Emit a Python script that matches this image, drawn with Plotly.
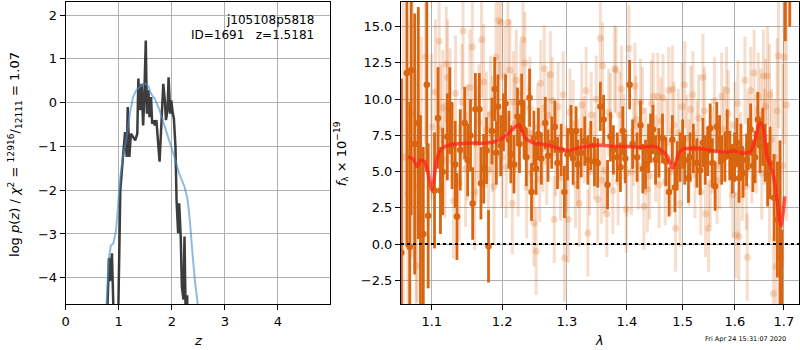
import plotly.graph_objects as go
import math

# ---------------- left panel: log p(z) ----------------
chi_z = [0.77, 0.79, 0.816, 0.835, 0.872, 0.91, 0.95, 0.975, 1.00, 1.03, 1.08, 1.12, 1.15, 1.17, 1.20,
         1.23, 1.27, 1.31, 1.35, 1.37, 1.40, 1.43, 1.46, 1.48, 1.51, 1.53, 1.56, 1.58, 1.61, 1.63,
         1.66, 1.68, 1.71, 1.74, 1.77, 1.79, 1.82, 1.84, 1.87, 1.89, 1.92, 1.94, 1.97, 1.99, 2.02,
         2.04, 2.07, 2.09, 2.12, 2.14, 2.17, 2.19, 2.22, 2.24, 2.27, 2.29, 2.32]
chi_logp = [-7.0, -4.6, -3.55, -4.08, -3.44, -6.5, -7.0, -6.0, -3.59, -2.0, -1.24, -0.67, -1.24, -0.10, -1.24,
            -0.71, -0.78, -0.86, -0.71, 0.55, -0.17, 0.43, -0.52, 0.05, 1.42, -0.25, 0.28, -0.33, 0.13, -0.48,
            -0.40, -0.52, -0.40, -0.93, -1.35, -0.86, 0.05, 0.43, 0.05, -0.40, -0.17, 0.58, -0.25, 0.05, -0.25,
            -0.36, -1.01, -2.22, -2.98, -2.30, -3.10, -4.20, -4.50, -3.06, -5.5, -4.4, -7.0]

pdf_z = [0.77, 0.81, 0.85, 0.90, 0.95, 0.99, 1.03, 1.08, 1.15, 1.21, 1.27, 1.33, 1.40, 1.46, 1.51,
         1.56, 1.61, 1.68, 1.77, 1.86, 1.96, 2.05, 2.14, 2.24, 2.30, 2.34, 2.39, 2.44, 2.49, 2.53]
pdf_logp = [-4.6, -3.59, -3.27, -3.21, -2.91, -2.38, -1.69, -1.24, -0.78, -0.25, 0.13, 0.28, 0.37, 0.43, 0.43,
            0.37, 0.20, 0.09, -0.17, -0.52, -0.86, -1.24, -1.62, -1.92, -2.22, -2.68, -3.44, -4.12, -4.6, -5.2]

left_xticks = [0, 1, 2, 3, 4]
left_yticks = [-4, -3, -2, -1, 0, 1, 2]

# ---------------- right panel: spectrum ----------------
dark_wave = [1.0595, 1.0667, 1.0705, 1.0724, 1.0771, 1.0819, 1.0848, 1.0886, 1.0933, 1.0952,
             1.1038, 1.1086, 1.1119, 1.1150, 1.1214, 1.1248, 1.1280, 1.1324, 1.1348, 1.1395,
             1.1457, 1.1500, 1.1540, 1.1571, 1.1610, 1.1667, 1.1690, 1.1730, 1.1771, 1.1800,
             1.1850, 1.1890, 1.1914, 1.1938, 1.1980, 1.2020, 1.2051, 1.2101, 1.2130, 1.2177,
             1.2230, 1.2260, 1.2293, 1.2330, 1.2364, 1.2414, 1.2444, 1.2480, 1.2515, 1.2550,
             1.2596, 1.2657, 1.2700, 1.2758, 1.2808, 1.2850, 1.2909, 1.2960, 1.3010, 1.3066,
             1.3100, 1.3148, 1.3176, 1.3231, 1.3290, 1.3341, 1.3390, 1.3451, 1.3505, 1.3549,
             1.3604, 1.3670, 1.3720, 1.3769, 1.3835, 1.3890, 1.3930, 1.3973, 1.4048, 1.4100,
             1.4179, 1.4238, 1.4280, 1.4327, 1.4380, 1.4417, 1.4460, 1.4506, 1.4565, 1.4631,
             1.4690, 1.4750, 1.4810, 1.4857, 1.4900, 1.4952, 1.5000, 1.5038, 1.5108, 1.5139,
             1.5200, 1.5266, 1.5329, 1.5380, 1.5424, 1.5470, 1.5519, 1.5560, 1.5614, 1.5646,
             1.5700, 1.5741, 1.5804, 1.5850, 1.5899, 1.5950, 1.5994, 1.6040, 1.6082, 1.6120,
             1.6164, 1.6233, 1.6270, 1.6315, 1.6360, 1.6404, 1.6460, 1.6507, 1.6560, 1.6610,
             1.6660, 1.6712, 1.6795, 1.6863, 1.6918, 1.6955, 1.7030, 1.7123]
dark_flux = [-0.6, 11.8, -0.2, 12.0, 6.9, 8.35, 1.9, 0.7, 11.0, 1.95,
             3.7, 8.7, 3.7, 5.0, 7.4, 9.2, 6.8, 5.5, 1.9, 6.5,
             8.35, 5.8, 7.5, 2.8, 9.3, 9.3, 4.2, 5.2, 6.45, -0.15,
             7.8, 10.7, 6.3, 9.5, 6.8, 8.4, 9.7, 7.2, 6.2, 5.5,
             8.8, 6.9, 9.75, 7.9, 6.0, 10.1, 3.6, 7.3, 5.2, 7.6,
             5.9, 8.35, 6.1, 7.0, 8.1, 5.6, 6.5, 3.6, 6.2, 7.8,
             5.9, 7.8, 5.5, 6.3, 7.1, 5.8, 6.8, 5.7, 5.6, 9.5,
             8.6, 4.1, 7.4, 6.5, 6.0, 5.3, 7.8, 5.9, 11.0, 6.9,
             6.0, 8.2, 5.2, 5.5, 6.6, 7.3, 7.9, 5.8, 6.3, 7.3,
             5.7, 3.6, 7.2, 3.9, 5.4, 6.0, 6.9, 5.8, 4.55, 6.0,
             6.6, 5.6, 5.1, 7.0, 5.8, 6.4, 8.0, 5.6, 4.0, 8.1,
             7.2, 5.8, 6.0, 7.6, 6.1, 5.2, 6.0, 7.0, 4.55, 6.6,
             4.9, 5.8, 6.9, 7.9, 5.4, 6.0, 8.6, 6.8, 7.4, 6.3,
             4.8, 5.6, 3.2, 1.7, -0.85, -5.0, 17.0, 18.0]
dark_err = [12, 12, 10, 10, 9, 8, 7, 6, 6, 5,
            4, 3.5, 3, 3, 3, 3, 3, 3, 3, 2.8,
            2.5, 2.5, 2.5, 2.5, 2.5, 2.5, 2.5, 2.4, 2.3, 2.5,
            2.3, 2.2, 2.2, 2.2, 2.1, 2.0, 2.0, 2.0, 2.0, 2.0,
            2.0, 2.0, 2.0, 2.0, 2.0, 2.0, 2.0, 1.9, 1.8, 1.8,
            1.8, 1.8, 1.8, 1.8, 1.8, 1.8, 1.8, 1.8, 1.8, 1.8,
            1.8, 1.7, 1.7, 1.7, 1.7, 1.7, 1.7, 1.7, 1.7, 1.7,
            1.7, 1.7, 1.7, 1.7, 1.7, 1.7, 1.7, 1.7, 1.7, 1.7,
            1.7, 1.7, 1.7, 1.7, 1.7, 1.7, 1.7, 1.7, 1.7, 1.7,
            1.7, 1.7, 1.7, 1.7, 1.7, 1.7, 1.7, 1.7, 1.7, 1.7,
            1.7, 1.7, 1.7, 1.7, 1.7, 1.7, 1.7, 1.7, 1.7, 1.7,
            1.7, 1.7, 1.7, 1.7, 1.7, 1.7, 1.7, 1.7, 1.7, 1.7,
            1.7, 1.8, 1.8, 1.8, 1.8, 1.8, 1.9, 1.9, 2.0, 2.0,
            2.2, 2.5, 3.0, 4.0, 8.0, 6.0, 3.0, 3.0]

light_wave = [1.0620, 1.0680, 1.0740, 1.0790, 1.0800, 1.0857, 1.0914, 1.1000, 1.1101, 1.1152,
              1.1180, 1.1217, 1.1253, 1.1328, 1.1380, 1.1434, 1.1495, 1.1566, 1.1620, 1.1697,
              1.1768, 1.1800, 1.1859, 1.1909, 1.1949, 1.1985, 1.2000, 1.2086, 1.2116, 1.2152,
              1.2190, 1.2212, 1.2313, 1.2343, 1.2400, 1.2450, 1.2480, 1.2515, 1.2586, 1.2620,
              1.2641, 1.2700, 1.2737, 1.2798, 1.2859, 1.2900, 1.2960, 1.3022, 1.3100, 1.3180,
              1.3203, 1.3280, 1.3313, 1.3341, 1.3396, 1.3450, 1.3505, 1.3549, 1.3588, 1.3620,
              1.3659, 1.3720, 1.3791, 1.3813, 1.3850, 1.3879, 1.3950, 1.3989, 1.4036, 1.4080,
              1.4119, 1.4160, 1.4238, 1.4298, 1.4330, 1.4400, 1.4464, 1.4548, 1.4600, 1.4680,
              1.4744, 1.4810, 1.4869, 1.4920, 1.4952, 1.5038, 1.5080, 1.5152, 1.5230, 1.5300,
              1.5380, 1.5430, 1.5487, 1.5560, 1.5650, 1.5741, 1.5780, 1.5835, 1.5920, 1.6000,
              1.6027, 1.6082, 1.6150, 1.6199, 1.6247, 1.6260, 1.6315, 1.6384, 1.6430, 1.6521,
              1.6575, 1.6620, 1.6658, 1.6699, 1.6740, 1.6781, 1.6836, 1.6884, 1.6918, 1.6973,
              1.7055,
              1.1050, 1.1120, 1.1200, 1.1300, 1.1420, 1.1470, 1.1530, 1.1600, 1.1660, 1.1730,
              1.1830, 1.1880, 1.1960, 1.2040, 1.2060, 1.2170, 1.2240, 1.2280, 1.2370, 1.2420,
              1.2540, 1.2570, 1.2680, 1.2770, 1.2820, 1.2940, 1.2990, 1.3050, 1.3140, 1.3240,
              1.3370, 1.3480, 1.3570, 1.3690, 1.3760, 1.3910, 1.4000, 1.4140, 1.4200, 1.4270,
              1.4360, 1.4430, 1.4510, 1.4570, 1.4640, 1.4710, 1.4780, 1.4840, 1.4990, 1.5120,
              1.5190, 1.5270, 1.5340, 1.5410, 1.5520, 1.5600, 1.5700, 1.5870, 1.5960, 1.6060,
              1.6110, 1.6230, 1.6340, 1.6470, 1.6540, 1.6600, 1.6700, 1.6800, 1.6860, 1.7000]
light_flux = [6.0, 3.5, 9.0, -1.5, 4.0, 6.3, 12.9, 8.1, 14.0, 9.4,
              5.8, 11.5, 9.5, 10.4, 4.2, 14.7, 7.0, 13.6, 6.9, 14.1,
              7.9, 5.1, 7.6, 12.9, 15.4, 15.3, 6.0, 15.3, 12.0, 2.8,
              8.3, 11.3, 14.1, 12.5, 7.6, 4.9, 1.45, -0.5, 11.1, 6.6,
              12.1, 8.9, 11.7, 1.7, 9.5, 4.6, -0.97, 1.7, 8.3, 5.6,
              2.8, 7.2, 10.6, 0.76, 8.9, 6.1, 3.1, 14.2, 12.3, 5.1,
              2.1, 8.8, 12.1, 12.0, 4.3, 8.9, 7.4, 2.4, 13.5, 5.0,
              7.0, 8.6, 9.8, 2.6, 6.4, 4.7, 10.2, 10.2, 8.5, 4.3,
              10.6, 10.7, 1.1, 7.7, 2.8, 11.0, 7.3, 9.3, 4.8, 8.7,
              11.5, 2.1, 1.1, 6.5, 4.4, 10.2, 7.9, 10.6, 5.5, 8.2,
              0.64, 0.53, 4.6, 11.3, -0.9, 7.5, 10.6, 11.8, 6.5, 8.9,
              11.6, 9.5, 11.6, 3.6, 7.2, -3.4, -1.54, 13.0, -0.3, 5.4,
              9.6,
              10.5, 7.9, 12.4, 3.0, 9.8, 5.2, 10.8, 3.6, 8.4, 11.2,
              9.0, 4.0, 8.6, 11.6, 5.3, 9.8, 5.4, 10.4, 3.9, 9.4,
              8.1, 4.5, 5.7, 9.9, 6.3, 10.3, 5.2, 9.1, 4.1, 9.6,
              5.0, 10.0, 4.4, 9.1, 3.7, 10.7, 4.9, 10.9, 5.4, 9.2,
              3.8, 9.7, 5.9, 4.1, 10.1, 7.0, 5.0, 8.2, 9.5, 5.6,
              10.3, 6.9, 3.6, 9.2, 4.2, 9.9, 5.4, 9.0, 3.4, 9.7,
              6.1, 4.0, 5.8, 10.2, 4.9, 7.4, 10.3, 6.0, 9.2, 12.9]
light_err = [12, 12, 10, 9, 8, 8, 6, 5, 5, 4,
             4, 4, 4, 4, 4, 4, 4, 4, 4, 4,
             4, 4, 4, 4, 4, 4, 3.5, 3.5, 3.5, 3.5,
             3.5, 3.5, 3.5, 3.5, 3.5, 3, 3, 3, 3, 3,
             3, 3, 3, 3, 3, 3, 3, 3, 3, 3,
             3, 3, 3, 3, 3, 3, 3, 3, 3, 3,
             3, 3, 3, 3, 3, 3, 3, 3, 3, 3,
             3, 3, 3, 3, 3, 3, 3, 3, 3, 3,
             3, 3, 3, 3, 3, 3, 3, 3, 3, 3,
             3, 3, 3, 3, 3, 3, 3, 3, 3, 3,
             3, 3, 3, 3, 3, 3, 3, 3, 3, 3.2,
             3.2, 3.3, 3.4, 3.5, 3.5, 4, 4.5, 5, 6, 7,
             8,
             5, 4.5, 4, 4, 4, 4, 4, 4, 4, 4,
             4, 4, 4, 3.5, 3.5, 3.5, 3.5, 3.5, 3.5, 3.5,
             3, 3, 3, 3, 3, 3, 3, 3, 3, 3,
             3, 3, 3, 3, 3, 3, 3, 3, 3, 3,
             3, 3, 3, 3, 3, 3, 3, 3, 3, 3,
             3, 3, 3, 3, 3, 3, 3, 3, 3, 3,
             3, 3, 3, 3, 3.2, 3.3, 3.5, 4, 5, 6]

model_wave = [1.068, 1.075, 1.080, 1.085, 1.090, 1.095, 1.100, 1.103, 1.106, 1.110,
              1.117, 1.126, 1.138, 1.157, 1.176, 1.190, 1.200, 1.210, 1.219, 1.225,
              1.229, 1.235, 1.246, 1.266, 1.286, 1.301, 1.318, 1.340, 1.351, 1.378,
              1.400, 1.424, 1.448, 1.460, 1.472, 1.481, 1.487, 1.493, 1.501, 1.520,
              1.539, 1.565, 1.585, 1.596, 1.615, 1.631, 1.641, 1.648, 1.653, 1.659,
              1.665, 1.675, 1.682, 1.689, 1.694, 1.699, 1.702]
model_flux = [6.0, 5.86, 5.36, 5.8, 5.7, 4.9, 3.75, 4.44, 5.6, 6.3,
              6.7, 6.85, 6.92, 6.97, 6.97, 7.08, 7.31, 7.66, 8.07, 8.23,
              7.89, 7.31, 7.01, 6.85, 6.62, 6.44, 6.62, 6.78, 6.83, 6.74,
              6.74, 6.69, 6.74, 6.51, 6.05, 5.24, 5.59, 6.28, 6.55, 6.62,
              6.57, 6.39, 6.34, 6.44, 6.28, 6.39, 7.2, 8.23, 8.34, 7.66,
              6.05, 5.13, 3.98, 2.14, 1.22, 2.37, 3.29]

right_xticks = [1.1, 1.2, 1.3, 1.4, 1.5, 1.6, 1.7]
right_yticks = [-2.5, 0.0, 2.5, 5.0, 7.5, 10.0, 12.5, 15.0]

ORANGE = "#d96510"
FONT = "DejaVu Sans"

fig = go.Figure()

fig.add_trace(go.Scatter(x=chi_z, y=chi_logp, mode="lines",
                         line=dict(color="rgba(40,40,40,0.9)", width=2.5),
                         xaxis="x", yaxis="y", showlegend=False))
fig.add_trace(go.Scatter(x=pdf_z, y=pdf_logp, mode="lines",
                         line=dict(color="rgba(70,140,200,0.6)", width=2),
                         xaxis="x", yaxis="y", showlegend=False))

fig.add_trace(go.Scatter(x=light_wave, y=light_flux, mode="markers",
                         marker=dict(color="rgba(217,101,16,0.22)", size=7, line=dict(width=0)),
                         error_y=dict(type="data", array=light_err, visible=True,
                                      color="rgba(217,101,16,0.22)", thickness=3, width=0),
                         xaxis="x2", yaxis="y2", showlegend=False, cliponaxis=True))
fig.add_trace(go.Scatter(x=dark_wave, y=dark_flux, mode="markers",
                         marker=dict(color=ORANGE, size=6.5, line=dict(width=0)),
                         error_y=dict(type="data", array=dark_err, visible=True,
                                      color=ORANGE, thickness=2.8, width=0),
                         xaxis="x2", yaxis="y2", showlegend=False, cliponaxis=True))
fig.add_trace(go.Scatter(x=model_wave, y=model_flux, mode="lines",
                         line=dict(color="rgba(255,35,25,0.75)", width=3.5, shape="spline", smoothing=0.6),
                         xaxis="x2", yaxis="y2", showlegend=False))

fig.add_shape(type="line", xref="x2 domain", yref="y2", x0=0, x1=1, y0=0, y1=0,
              line=dict(color="black", width=2, dash="dot"))

axis_common = dict(showline=True, mirror=True, linecolor="black", linewidth=1,
                   ticks="outside", ticklen=5, tickcolor="black", tickwidth=1,
                   showgrid=True, gridcolor="#b0b0b0", gridwidth=1, zeroline=False,
                   tickfont=dict(family=FONT, size=13, color="black"))

y0 = 46 / 350
y1 = 348 / 350

fig.update_layout(
    width=800, height=350,
    margin=dict(l=0, r=0, t=0, b=0),
    paper_bgcolor="white", plot_bgcolor="white",
    font=dict(family=FONT, color="black"),
    xaxis=dict(domain=[62 / 800, 328 / 800], range=[0, 4.99], tickvals=left_xticks,
               anchor="y", **axis_common),
    yaxis=dict(domain=[y0, y1], range=[-4.6, 2.3], tickvals=left_yticks,
               ticktext=[("\u2212" + str(-v)) if v < 0 else str(v) for v in left_yticks],
               anchor="x", **axis_common),
    xaxis2=dict(domain=[399 / 800, 799 / 800], type="log",
                range=[math.log10(1.059), math.log10(1.732)],
                tickvals=right_xticks, ticktext=["%.1f" % v for v in right_xticks],
                anchor="y2", **axis_common),
    yaxis2=dict(domain=[y0, y1], range=[-4.13, 16.7], tickvals=right_yticks,
                ticktext=[("\u2212%.1f" % -v) if v < 0 else "%.1f" % v for v in right_yticks],
                anchor="x2", **axis_common),
)

ann_font = dict(family=FONT, size=13, color="black")
fig.add_annotation(text="log <i>p</i>(<i>z</i>) / <i>χ</i><sup>2</sup> = <sup>12916</sup>/<sub>12111</sub> = 1.07",
                   textangle=-90, xref="paper", yref="paper", x=11 / 800, y=1 - 154 / 350,
                   showarrow=False, font=ann_font, xanchor="center", yanchor="middle")
fig.add_annotation(text="<i>z</i>", xref="paper", yref="paper", x=195 / 800, y=1 - 340 / 350,
                   showarrow=False, font=ann_font, xanchor="center", yanchor="middle")
fig.add_annotation(text="<i>λ</i>", xref="paper", yref="paper", x=598 / 800, y=1 - 340 / 350,
                   showarrow=False, font=ann_font, xanchor="center", yanchor="middle")
fig.add_annotation(text="<i>f</i><sub>λ</sub> × 10<sup>−19</sup>", textangle=-90,
                   xref="paper", yref="paper", x=339 / 800, y=1 - 154 / 350,
                   showarrow=False, font=ann_font, xanchor="center", yanchor="middle")
fig.add_annotation(text="j105108p5818", xref="paper", yref="paper", x=314 / 800, y=1 - 20 / 350,
                   showarrow=False, font=dict(family=FONT, size=12, color="black"),
                   xanchor="right", yanchor="middle")
fig.add_annotation(text="ID=1691\u00a0\u00a0\u00a0z=1.5181", xref="paper", yref="paper",
                   x=314 / 800, y=1 - 35 / 350,
                   showarrow=False, font=dict(family=FONT, size=12, color="black"),
                   xanchor="right", yanchor="middle")
fig.add_annotation(text="Fri Apr 24 15:31:07 2020", xref="paper", yref="paper",
                   x=745 / 800, y=1 - 339 / 350, showarrow=False,
                   font=dict(family=FONT, size=6.5, color="black"),
                   xanchor="center", yanchor="middle")

fig.write_html("out.html")
